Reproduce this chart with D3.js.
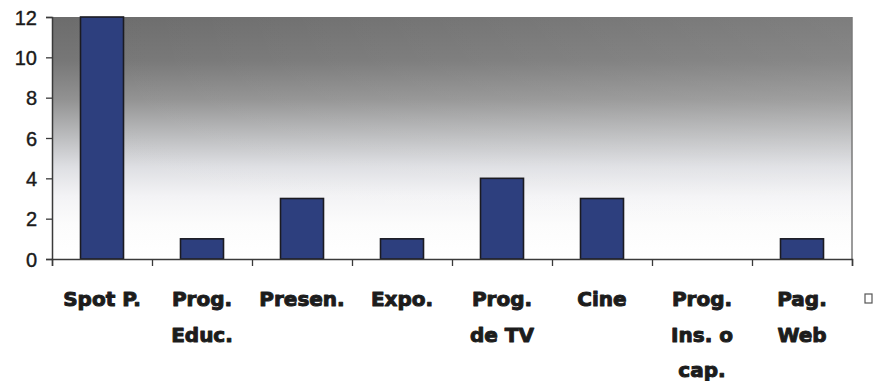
<!DOCTYPE html>
<html>
<head>
<meta charset="utf-8">
<script src="https://cdn.jsdelivr.net/npm/d3@7"></script>
<style>
  html, body { margin: 0; padding: 0; background: #ffffff; }
  svg { display: block; }
</style>
</head>
<body>
<svg id="chart" width="884" height="381"></svg>
<script>
// Category labels (line breaks mark where each label wraps)
const categories = [
  "Spot P.",
  "Prog.\nEduc.",
  "Presen.",
  "Expo.",
  "Prog.\nde TV",
  "Cine",
  "Prog.\nIns. o\ncap.",
  "Pag.\nWeb"
];
const values = [12, 1, 3, 1, 4, 3, 0, 1];
const yTicks = [0, 2, 4, 6, 8, 10, 12];

const svg = d3.select("#chart");
const plot = { left: 52, right: 852, top: 17, bottom: 259 };

const x = d3.scaleBand()
  .domain(categories)
  .range([plot.left, plot.right])
  .paddingInner(0.57)
  .paddingOuter(0.285);

const xEdges = d3.scaleLinear()
  .domain([0, categories.length])
  .range([plot.left, plot.right]);

const y = d3.scaleLinear()
  .domain([0, 12])
  .range([plot.bottom, plot.top]);

// Plot area background: grey at the top fading to white
const defs = svg.append("defs");
const grad = defs.append("linearGradient")
  .attr("id", "bgFade")
  .attr("x1", 0).attr("y1", 0).attr("x2", 0).attr("y2", 1);
[
  [0, "#6c6c6c"],
  [0.18, "#777777"],
  [0.34, "#929292"],
  [0.50, "#bdbec0"],
  [0.62, "#dedfe3"],
  [0.74, "#f3f3f5"],
  [0.86, "#fcfcfc"],
  [1, "#ffffff"]
].forEach(([o, c]) => grad.append("stop").attr("offset", o).attr("stop-color", c));

const grad2 = defs.append("linearGradient")
  .attr("id", "sideFade")
  .attr("x1", 0).attr("y1", 0).attr("x2", 1).attr("y2", 0);
grad2.append("stop").attr("offset", 0).attr("stop-color", "#ffffff").attr("stop-opacity", 0);
grad2.append("stop").attr("offset", 1).attr("stop-color", "#ffffff").attr("stop-opacity", 0.12);

svg.append("rect")
  .attr("x", plot.left).attr("y", plot.top)
  .attr("width", plot.right - plot.left).attr("height", plot.bottom - plot.top)
  .attr("fill", "url(#bgFade)");
svg.append("rect")
  .attr("x", plot.left).attr("y", plot.top)
  .attr("width", plot.right - plot.left).attr("height", plot.bottom - plot.top)
  .attr("fill", "url(#sideFade)");

// Right edge of the plot area
svg.append("line")
  .attr("x1", plot.right).attr("x2", plot.right)
  .attr("y1", plot.top).attr("y2", plot.bottom)
  .attr("stroke", "#7a7a7a").attr("stroke-width", 1.5);

// Bars
svg.append("g")
  .selectAll("rect")
  .data(values)
  .join("rect")
  .attr("x", (d, i) => x(categories[i]))
  .attr("y", d => y(d))
  .attr("width", x.bandwidth())
  .attr("height", d => y(0) - y(d))
  .attr("fill", "#2d3f7e")
  .attr("stroke", "#1b1b22")
  .attr("stroke-width", 1.6);

// Y axis
const yAxis = svg.append("g")
  .attr("transform", `translate(${plot.left},0)`)
  .call(d3.axisLeft(y).tickValues(yTicks).tickSize(6).tickPadding(9).tickFormat(d3.format("d")));
yAxis.select(".domain").attr("stroke", "#3a3a3a").attr("stroke-width", 1.5);
yAxis.selectAll(".tick line").attr("stroke", "#3a3a3a").attr("stroke-width", 1.3);
yAxis.selectAll(".tick text")
  .attr("font-family", "Liberation Sans, Arial, sans-serif")
  .attr("font-size", 20)
  .attr("fill", "#1a1a1a")
  .attr("stroke", "#1a1a1a")
  .attr("stroke-width", 0.4)
  .attr("dy", "0.36em");

// X axis with ticks on the category boundaries
const xAxis = svg.append("g")
  .attr("transform", `translate(0,${plot.bottom})`)
  .call(d3.axisBottom(xEdges).tickValues(d3.range(categories.length + 1)).tickSize(7).tickFormat(""));
xAxis.select(".domain").attr("stroke", "#3a3a3a").attr("stroke-width", 1.5);
xAxis.selectAll(".tick line").attr("stroke", "#3a3a3a").attr("stroke-width", 1.3);

// Category labels, wrapped
const labels = svg.append("g")
  .selectAll("text")
  .data(categories)
  .join("text")
  .attr("x", d => x(d) + x.bandwidth() / 2)
  .attr("y", 306)
  .attr("text-anchor", "middle")
  .attr("font-family", "DejaVu Sans, sans-serif")
  .attr("font-weight", "bold")
  .attr("font-size", 20)
  .attr("fill", "#1c1c1c")
  .attr("stroke", "#1c1c1c")
  .attr("stroke-width", 1)
  .attr("stroke-linejoin", "round");
labels.each(function(d) {
  const t = d3.select(this);
  const cx = x(d) + x.bandwidth() / 2;
  d.split("\n").forEach((line, i) => {
    t.append("tspan").attr("x", cx).attr("dy", i === 0 ? 0 : 35.5).text(line);
  });
});

// Legend marker
svg.append("rect")
  .attr("x", 865).attr("y", 294)
  .attr("width", 7).attr("height", 9)
  .attr("fill", "#ffffff")
  .attr("stroke", "#555555")
  .attr("stroke-width", 1.2);
</script>
</body>
</html>
